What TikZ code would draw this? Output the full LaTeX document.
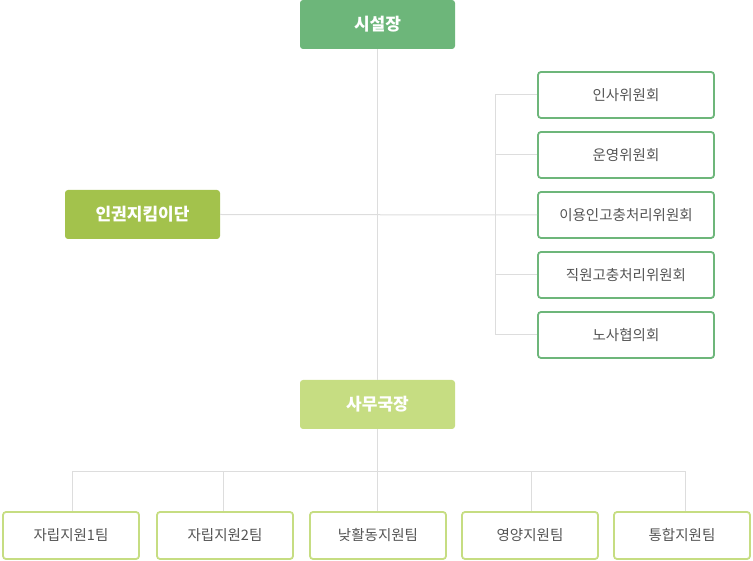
\documentclass[tikz,border=0pt]{standalone}
\usepackage{fontspec}
\setmainfont{Noto Sans CJK KR}
\newfontfamily\kr{Noto Sans CJK KR}
\definecolor{topgreen}{HTML}{6DB67A}
\definecolor{leftgreen}{HTML}{A3C24C}
\definecolor{lightgreen}{HTML}{C6DD82}
\definecolor{linegray}{HTML}{DDDDDD}
\definecolor{textgray}{HTML}{555555}
\tikzset{
  headbox/.style={rounded corners=3pt, minimum width=155pt, minimum height=49pt, inner sep=0pt,
    text=white, font=\kr\fontsize{17}{20}\selectfont\bfseries},
  combox/.style={draw=topgreen, line width=1.8pt, fill=white, rounded corners=3pt,
    minimum width=176pt, minimum height=46pt, inner sep=0pt, text=textgray,
    font=\kr\fontsize{14.5}{17}\selectfont},
  teambox/.style={draw=lightgreen, line width=1.8pt, fill=white, rounded corners=3pt,
    minimum width=136pt, minimum height=47pt, inner sep=0pt, text=textgray,
    font=\kr\fontsize{14.5}{17}\selectfont},
  conn/.style={draw=linegray, line width=1pt}
}
\begin{document}
\begin{tikzpicture}[x=1pt,y=-1pt]
\useasboundingbox (0,0) rectangle (753,561);
% nodes
\node[headbox, fill=topgreen] (head) at (377.5,24.5) {시설장};
\node[headbox, fill=leftgreen] (human) at (142.5,214.5) {인권지킴이단};
\node[headbox, fill=lightgreen] (office) at (377.5,404.5) {사무국장};
\node[combox] (c1) at (626,95) {인사위원회};
\node[combox] (c2) at (626,155) {운영위원회};
\node[combox] (c3) at (626,215) {이용인고충처리위원회};
\node[combox] (c4) at (626,275) {직원고충처리위원회};
\node[combox] (c5) at (626,335) {노사협의회};
\node[teambox] (t1) at (71,535.5) {자립지원1팀};
\node[teambox] (t2) at (225,535.5) {자립지원2팀};
\node[teambox] (t3) at (378,535.5) {낮활동지원팀};
\node[teambox] (t4) at (530,535.5) {영양지원팀};
\node[teambox] (t5) at (682,535.5) {통합지원팀};
% coordinates
\coordinate (mid) at (377,215);
\coordinate (b1) at (495,95);
\coordinate (b2) at (495,155);
\coordinate (b4) at (495,275);
\coordinate (b5) at (495,335);
\coordinate (hub) at (377,471);
\coordinate (h1) at (72,471);
\coordinate (h2) at (223,471);
\coordinate (h4) at (531,471);
\coordinate (h5) at (685,471);
% connectors
\path[conn] (head.south -| mid) -- (office.north -| mid);
\path[conn] (human.east) -- (c3.west);
\path[conn] (b1) -- (b5);
\path[conn] (b1) -- (c1.west);
\path[conn] (b2) -- (c2.west);
\path[conn] (b4) -- (c4.west);
\path[conn] (b5) -- (c5.west);
\path[conn] (office.south -| mid) -- (hub);
\path[conn] (h1) -- (h5);
\path[conn] (h1) -- (t1.north -| h1);
\path[conn] (h2) -- (t2.north -| h2);
\path[conn] (hub) -- (t3.north -| hub);
\path[conn] (h4) -- (t4.north -| h4);
\path[conn] (h5) -- (t5.north -| h5);
\end{tikzpicture}
\end{document}
